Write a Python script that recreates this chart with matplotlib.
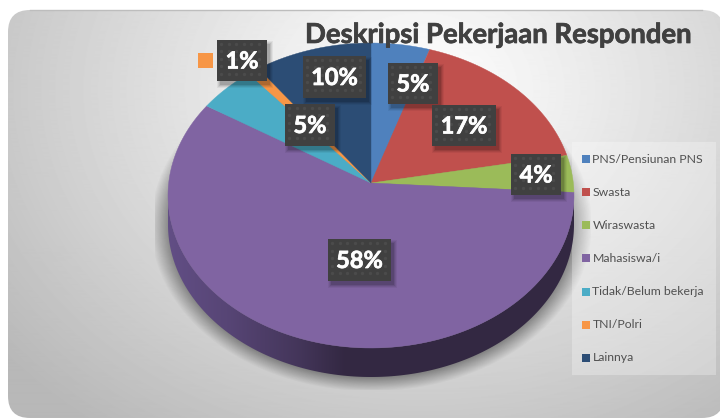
import numpy as np
import matplotlib
matplotlib.use("Agg")
import matplotlib.pyplot as plt
import matplotlib.patheffects as pe
from matplotlib.patches import FancyBboxPatch, Polygon, Rectangle

plt.rcParams['font.family'] = ['Lato', 'DejaVu Sans']

# Data
categories = ['PNS/Pensiunan PNS', 'Swasta', 'Wiraswasta', 'Mahasiswa/i',
              'Tidak/Belum bekerja', 'TNI/Polri', 'Lainnya']
values = [5, 17, 4, 58, 5, 1, 10]
colors = ['#4F81BD', '#C0504D', '#9BBB59', '#8064A2', '#4BACC6', '#F79646', '#2C4D75']
title = 'Deskripsi Pekerjaan Responden'

# label boxes in pixels: x0, x1, y0, y1
label_boxes = [(388, 438, 63, 104), (432, 496, 105, 146), (511, 561, 154, 195),
               (328, 391, 239, 281), (285, 335, 104, 146), (217, 267, 40, 81),
               (303, 366, 56, 98)]

# ellipse of the pie top, the apex sits above its centre because of the tilt
cx, cy = 371, 195.5
rx, ry = 203, 152.5
apex_y = 183
depth = 29


def rim(a):
    # point of the rim for pie angle a (radians, math convention)
    dx = rx * np.cos(a)
    dy = -150 * np.sin(a)
    off = apex_y - cy
    qa = (dx / rx) ** 2 + (dy / ry) ** 2
    qb = 2 * off * dy / ry ** 2
    qc = (off / ry) ** 2 - 1
    t = (-qb + np.sqrt(qb ** 2 - 4 * qa * qc)) / (2 * qa)
    return cx + t * dx, apex_y + t * dy


fig = plt.figure(figsize=(7.2, 4.19), dpi=100)
ax = fig.add_axes([0, 0, 1, 1])

# pie only gives the angles, wedges are redrawn tilted below
wedges, _ = ax.pie(values, colors=colors, startangle=90, counterclock=False)
angles = [(w.theta1, w.theta2) for w in wedges]
for w in wedges:
    w.remove()

ax.set_aspect('auto')
ax.set_xlim(0, 720)
ax.set_ylim(419, 0)
ax.axis('off')

# background, radial grey gradient inside a rounded card
yy, xx = np.mgrid[0:419, 0:720]
dist = np.sqrt(((xx - 420) / 430.0) ** 2 + ((yy - 90) / 340.0) ** 2)
shade = np.clip(1.0 - 0.22 * dist ** 1.1, 0.72, 1)
bg = ax.imshow(shade, cmap='gray', vmin=0, vmax=1, extent=(0, 720, 419, 0),
               aspect='auto', zorder=1)
card = FancyBboxPatch((28, 30), 676, 368, boxstyle='round,pad=20,rounding_size=22',
                      transform=ax.transData, facecolor='none', edgecolor='none')
ax.add_patch(card)
bg.set_clip_path(card)
ax.plot([30, 702], [10, 10], color='#bdbdbd', lw=1, zorder=2)

# soft shadow under the pie, cut off at the edge of the plot area
sh = np.sqrt(((xx - cx) / (rx + 18.0)) ** 2 + ((yy - (cy + depth)) / (ry + 14.0)) ** 2)
alpha = np.clip((1.0 - sh) / 0.10, 0, 1) * 0.45
alpha[(xx < 155) | (yy > 389) | (xx > 590)] = 0
shadow = np.zeros((419, 720, 4))
shadow[..., 3] = alpha
ax.imshow(shadow, extent=(0, 720, 419, 0), aspect='auto', zorder=3)

# legend panel
ax.add_patch(Rectangle((572, 142), 144, 233, facecolor='white', alpha=0.28,
                       edgecolor='none', zorder=4))

# side wall of the pie
t = np.linspace(np.pi, 0, 200)
ex = cx + rx * np.cos(t)
ey = cy + ry * np.sin(t)
wall_pts = np.r_[np.c_[ex, ey], np.c_[ex[::-1], ey[::-1] + depth]]
wall = Polygon(wall_pts, closed=True, facecolor='none', edgecolor='none', zorder=5)
ax.add_patch(wall)
ramp = np.interp(np.arange(720), [168, 230, 300, 345, 720],
                 [0.0, 0.25, 0.65, 1.0, 1.0])
c0 = np.array([0x62, 0x4E, 0x85]) / 255
c1 = np.array([0x33, 0x28, 0x42]) / 255
grad = (c0[None, :] * (1 - ramp[:, None]) + c1[None, :] * ramp[:, None])[None, :, :]
wall_im = ax.imshow(grad, extent=(0, 720, 419, 0), aspect='auto', zorder=5)
wall_im.set_clip_path(wall)

# top of the pie
for (a0, a1), col in zip(angles, colors):
    a = np.radians(np.linspace(a0, a1, 120))
    px, py = rim(a)
    pts = np.r_[[[cx, apex_y]], np.c_[px, py]]
    ax.add_patch(Polygon(pts, closed=True, facecolor=col, edgecolor=col, lw=0.3, zorder=6))

# data labels, dark box with dotted texture and a soft shadow
for (x0, x1, y0, y1), v in zip(label_boxes, values):
    for grow, al in [(3, 0.05), (2, 0.07), (1, 0.09), (0, 0.12)]:
        ax.add_patch(Rectangle((x0 + 3 - grow, y0 + 4 - grow), x1 - x0 + 2 * grow,
                               y1 - y0 + 2 * grow, facecolor='black', alpha=al,
                               edgecolor='none', zorder=7))
    ax.add_patch(Rectangle((x0, y0), x1 - x0, y1 - y0, facecolor='#404040',
                           edgecolor='none', zorder=8))
    dx, dy = np.meshgrid(np.arange(x0 + 4, x1 - 1, 7.5), np.arange(y0 + 4, y1 - 1, 7.5))
    ax.scatter(dx.ravel(), dy.ravel(), s=6, color='#4b4b4b', linewidths=0, zorder=9)
    ax.text((x0 + x1) / 2, (y0 + y1) / 2 + 0.5, f'{v}%', color='white', fontsize=17,
            fontweight='bold', ha='center', va='center', zorder=10,
            path_effects=[pe.withStroke(linewidth=0.5, foreground='white')])

# orange key next to the 1% label
ax.add_patch(Rectangle((198, 53), 15, 15, facecolor=colors[5], edgecolor='none', zorder=8))

# title
ax.text(305, 43, title, color='#404040', fontsize=19.8, fontweight='bold',
        ha='left', va='baseline', zorder=11,
        path_effects=[pe.withStroke(linewidth=0.5, foreground='#404040')])

# legend
for i, (name, col) in enumerate(zip(categories, colors)):
    ly = 159 + i * 33.15
    ax.add_patch(Rectangle((582, ly - 4), 8, 8, facecolor=col, edgecolor='none', zorder=8))
    ax.text(592.5, ly, name, color='#505050', fontsize=8.8, ha='left', va='center', zorder=8)

fig.savefig('out.png', dpi=100)
